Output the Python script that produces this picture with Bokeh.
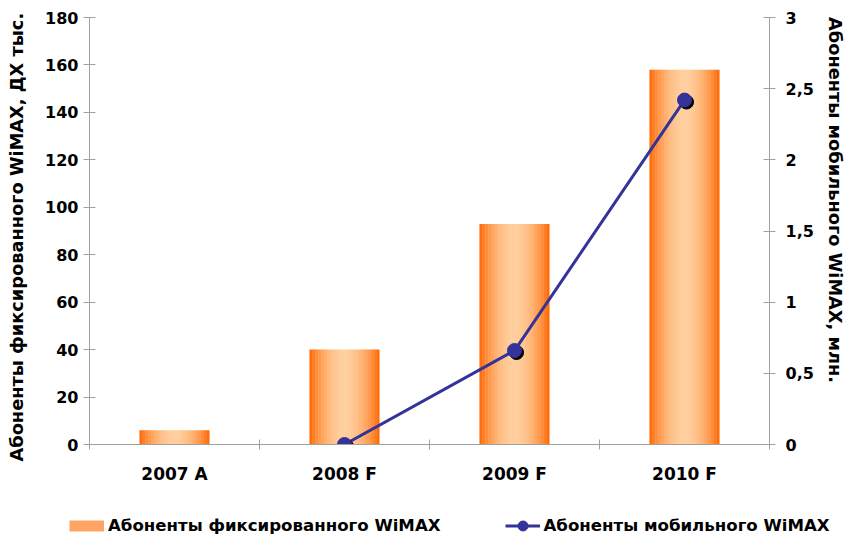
import numpy as np
from bokeh.plotting import figure
from bokeh.models import (LinearAxis, Range1d, FixedTicker, CustomJSTickFormatter,
                          Legend, LegendItem, ColumnDataSource)
from bokeh.transform import dodge
from bokeh.embed import file_html
from bokeh.resources import INLINE

# ---- data ----
categories = ["2007 A", "2008 F", "2009 F", "2010 F"]
fixed_wimax = [6, 40, 93, 158]            # thousand subscribers (left axis)
mobile_categories = ["2008 F", "2009 F", "2010 F"]
mobile_wimax = [0.0, 0.66, 2.42]          # million subscribers (right axis)
left_ticks = [0, 20, 40, 60, 80, 100, 120, 140, 160, 180]
right_ticks = [0, 0.5, 1, 1.5, 2, 2.5, 3]
fixed_label = "Абоненты фиксированного WiMAX"
mobile_label = "Абоненты мобильного WiMAX"
left_title = "Абоненты фиксированного WiMAX, ДХ тыс."
right_title = "Абоненты мобильного WiMAX, млн."

FONT = "DejaVu Sans"
FS_TICK = "16px"
FS_XLAB = "17px"
FS_TITLE = "17.8px"
FS_LEG = "16.6px"
AXIS_GRAY = "#A0A0A0"
BLUE = "#333399"
NB = "\u00a0"

# ---- gradient strips for bars ----
N = 24
bar_w = 0.41
edge = np.array([255, 102, 0])
center = np.array([255, 206, 156])
offs = (np.arange(N) + 0.5) / N * bar_w - bar_w / 2
t = np.abs(offs) / (bar_w / 2)
cols = []
for tt in t:
    c = edge + (center - edge) * (1 - tt ** 2)
    cols.append("#%02x%02x%02x" % tuple(int(round(v)) for v in c))

xs, tops, colors = [], [], []
for i, v in enumerate(fixed_wimax):
    for j in range(N):
        xs.append(i + 0.5 + offs[j])
        tops.append(v)
        colors.append(cols[j])
bar_src = ColumnDataSource(dict(x=xs, top=tops, color=colors))

cat_index = {c: i for i, c in enumerate(categories)}
line_src = ColumnDataSource(dict(x=[cat_index[c] + 0.5 for c in mobile_categories],
                                 y=mobile_wimax))

p = figure(width=848, height=505, x_range=Range1d(0, 4), y_range=Range1d(0, 180),
           output_backend="svg", toolbar_location=None,
           min_border_left=89, min_border_right=76, min_border_top=17, min_border_bottom=61)
p.outline_line_color = None
p.xgrid.grid_line_color = None
p.ygrid.grid_line_color = None
p.extra_y_ranges = {"mob": Range1d(0, 3)}

p.vbar(x="x", top="top", bottom=0, width=bar_w / N * 1.15, source=bar_src,
       fill_color="color", line_color=None)
p.line(x="x", y="y", source=line_src, y_range_name="mob", line_color=BLUE, line_width=3)
p.scatter(x=dodge("x", 0.012), y=dodge("y", -0.014), source=line_src, y_range_name="mob",
          size=14, fill_color="black", line_color="black")
p.scatter(x="x", y="y", source=line_src, y_range_name="mob",
          size=14, fill_color=BLUE, line_color=BLUE)

# x axis
xa = p.xaxis[0]
xa.ticker = FixedTicker(ticks=[0.5, 1.5, 2.5, 3.5], minor_ticks=[0, 1, 2, 3, 4])
xa.formatter = CustomJSTickFormatter(args=dict(labels=categories),
                                     code="return labels[Math.round(tick - 0.5)] || '';")
xa.major_tick_in = 0
xa.major_tick_out = 0
xa.minor_tick_in = 5
xa.minor_tick_out = 5
xa.major_label_standoff = 14

# left axis
ya = p.yaxis[0]
ya.ticker = FixedTicker(ticks=left_ticks)
ya.major_tick_in = 6
ya.major_tick_out = 6
ya.major_label_standoff = 5
ya.axis_label = left_title + NB * 2
ya.axis_label_standoff = 15

# right axis
ra = LinearAxis(y_range_name="mob", ticker=FixedTicker(ticks=right_ticks),
                formatter=CustomJSTickFormatter(code="return tick.toString().replace('.', ',');"))
ra.major_tick_in = 6
ra.major_tick_out = 6
ra.major_label_standoff = 10
ra.axis_label = right_title + NB * 10
ra.axis_label_standoff = 8
p.add_layout(ra, "right")

for ax in [xa, ya, ra]:
    ax.axis_line_color = AXIS_GRAY
    ax.major_tick_line_color = AXIS_GRAY
    ax.minor_tick_line_color = AXIS_GRAY if ax is xa else None
    ax.major_label_text_font = FONT
    ax.major_label_text_font_style = "bold"
    ax.major_label_text_font_size = FS_TICK
    ax.major_label_text_color = "black"
    ax.axis_label_text_font = FONT
    ax.axis_label_text_font_style = "bold"
    ax.axis_label_text_font_size = FS_TITLE
    ax.axis_label_text_color = "black"
xa.major_label_text_font_size = FS_XLAB

# ---- legend strip below the chart (separate root, same series styles) ----
lg = figure(width=848, height=30, x_range=Range1d(0, 848), y_range=Range1d(-40, -10),
            output_backend="svg", toolbar_location=None,
            x_axis_location=None, y_axis_location=None,
            min_border_left=0, min_border_right=0, min_border_top=0, min_border_bottom=0)
lg.outline_line_color = None
lg.xgrid.grid_line_color = None
lg.ygrid.grid_line_color = None
lb = lg.line(x="x", y="top", source=bar_src, line_color="#FFA464", line_width=11,
             line_cap="butt")
ll = lg.line(x="x", y="y", source=line_src, line_color=BLUE, line_width=3)
ls = lg.scatter(x="x", y="y", source=line_src, size=10, fill_color=BLUE, line_color=BLUE)

legend = Legend(items=[LegendItem(label=fixed_label, renderers=[lb]),
                       LegendItem(label=mobile_label, renderers=[ll, ls])],
                orientation="horizontal", location=(69, -3),
                glyph_width=35, glyph_height=25, label_standoff=4, spacing=64,
                label_text_font=FONT, label_text_font_style="bold",
                label_text_font_size=FS_LEG, label_text_color="black",
                border_line_color=None, background_fill_alpha=0,
                padding=0, margin=0)
lg.add_layout(legend, "center")

open("out.html", "w").write(file_html([p, lg], INLINE))
